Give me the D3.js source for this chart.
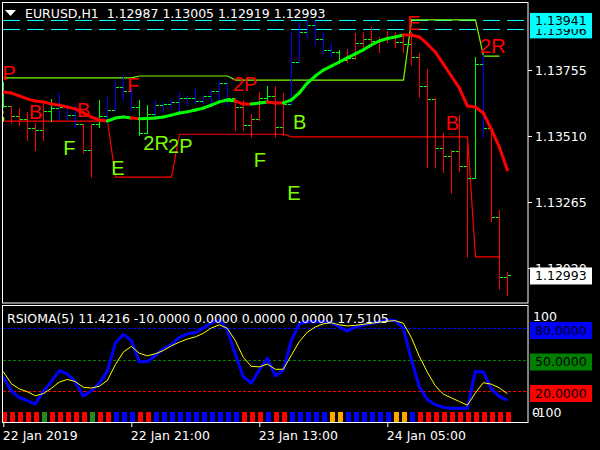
<!DOCTYPE html>
<html><head><meta charset="utf-8">
<script src="https://cdn.jsdelivr.net/npm/d3@7"></script>
<style>html,body{margin:0;padding:0;background:#000;overflow:hidden}svg{display:block}</style>
</head><body><svg id="c" width="600" height="450"></svg>
<script>
// ---------------- DATA ----------------
const symbolHeader = "EURUSD,H1  1.12987 1.13005 1.12919 1.12993";
const rsiHeader = "RSIOMA(5) 11.4216 -10.0000 0.0000 0.0000 0.0000 17.5105";
const timeTickIndex = [0, 16, 32, 48];
const timeTickLabels = ["22 Jan 2019", "22 Jan 21:00", "23 Jan 13:00", "24 Jan 05:00"];
const priceTicks = [1.13755, 1.13510, 1.13265, 1.13020];
const priceLevels = [1.13941, 1.13906];
const lastPrice = 1.12993;

const high = [1.13711,1.13622,1.13614,1.13600,1.13559,1.13633,1.13648,1.13670,1.13625,1.13622,1.13555,1.13555,1.13644,1.13655,1.13718,1.13737,
1.13685,1.13644,1.13625,1.13644,1.13637,1.13648,1.13674,1.13663,1.13685,1.13663,1.13681,1.13715,1.13711,1.13651,1.13644,1.13592,
1.13674,1.13696,1.13696,1.13670,1.13900,1.13933,1.13941,1.13937,1.13893,1.13856,1.13830,1.13833,1.13893,1.13896,1.13915,1.13878,
1.13900,1.13896,1.13878,1.13896,1.13818,1.13759,1.13651,1.13522,1.13459,1.13588,1.13481,1.13804,1.13811,1.13544,1.13236,1.13005];
const low = [1.13618,1.13559,1.13551,1.13496,1.13459,1.13496,1.13566,1.13574,1.13570,1.13544,1.13447,1.13358,1.13544,1.13559,1.13607,1.13644,
1.13607,1.13514,1.13522,1.13581,1.13600,1.13614,1.13600,1.13625,1.13633,1.13633,1.13633,1.13644,1.13625,1.13533,1.13533,1.13507,
1.13570,1.13644,1.13507,1.13514,1.13625,1.13785,1.13878,1.13848,1.13818,1.13804,1.13781,1.13785,1.13796,1.13837,1.13848,1.13822,
1.13859,1.13841,1.13822,1.13774,1.13655,1.13395,1.13395,1.13377,1.13299,1.13381,1.13062,1.13355,1.13507,1.13195,1.12943,1.12919];
const open = [1.13644,1.13622,1.13585,1.13574,1.13540,1.13533,1.13603,1.13614,1.13618,1.13588,1.13555,1.13459,1.13555,1.13585,1.13607,1.13692,
1.13677,1.13618,1.13522,1.13592,1.13625,1.13629,1.13637,1.13651,1.13651,1.13640,1.13659,1.13677,1.13707,1.13651,1.13618,1.13551,
1.13574,1.13651,1.13659,1.13544,1.13629,1.13785,1.13896,1.13922,1.13870,1.13830,1.13822,1.13792,1.13800,1.13856,1.13870,1.13863,
1.13870,1.13878,1.13859,1.13852,1.13804,1.13696,1.13648,1.13466,1.13436,1.13455,1.13399,1.13355,1.13778,1.13540,1.13210,1.12987];
const close = [1.13622,1.13585,1.13574,1.13540,1.13533,1.13603,1.13614,1.13618,1.13588,1.13555,1.13459,1.13555,1.13585,1.13607,1.13692,1.13677,
1.13618,1.13522,1.13592,1.13625,1.13629,1.13637,1.13651,1.13651,1.13640,1.13659,1.13677,1.13707,1.13651,1.13618,1.13551,1.13574,
1.13651,1.13659,1.13544,1.13629,1.13785,1.13896,1.13922,1.13870,1.13830,1.13822,1.13792,1.13800,1.13856,1.13870,1.13863,1.13870,
1.13878,1.13859,1.13852,1.13804,1.13696,1.13648,1.13466,1.13436,1.13455,1.13399,1.13355,1.13778,1.13540,1.13210,1.12987,1.12993];
// bar body colour class per bar: G = green, B = blue, R = red
const barClass = ("G"+"RRRRR"+"G"+"BBB"+"RR"+"G"+"BBBB"+"GG"+"BBBBBBBBBB"+"RRRR"+"G"+"RR"+"BBBBBB"+"G"+"RRRRRRRRRRRRRRRR"+"G"+"B"+"RRR").split("");

// trend moving average
const maLine = [1.13674,1.13670,1.13659,1.13648,1.13640,1.13637,1.13629,1.13625,1.13618,1.13611,1.13596,1.13581,1.13570,1.13566,1.13577,1.13581,
1.13577,1.13574,1.13575,1.13577,1.13581,1.13588,1.13596,1.13600,1.13607,1.13614,1.13625,1.13637,1.13644,1.13640,1.13629,1.13629,
1.13633,1.13637,1.13633,1.13633,1.13644,1.13670,1.13707,1.13733,1.13755,1.13770,1.13785,1.13800,1.13815,1.13830,1.13848,1.13863,
1.13872,1.13878,1.13885,1.13885,1.13878,1.13852,1.13822,1.13778,1.13733,1.13689,1.13622,1.13618,1.13596,1.13536,1.13470,1.13384];
const maTrend = ("RRRRRRRRRRRRR"+"GGG"+"R"+"GGGGGGGGGGGG"+"RR"+"GG"+"RR"+"GGGGGGGGGGGGGGG"+"RRRRRRRRRRRRRR").split("");

// upper (green) and lower (red) step levels
const upperLevel = [1.13726,1.13726,1.13726,1.13726,1.13726,1.13726,1.13726,1.13726,1.13726,1.13726,1.13726,1.13726,1.13726,1.13726,1.13726,1.13726,
1.13726,1.13733,1.13733,1.13733,1.13733,1.13733,1.13733,1.13733,1.13733,1.13733,1.13733,1.13733,1.13733,1.13718,1.13718,1.13718,
1.13718,1.13718,1.13718,1.13718,1.13718,1.13718,1.13718,1.13718,1.13718,1.13718,1.13718,1.13718,1.13718,1.13718,1.13718,1.13718,
1.13718,1.13718,1.13718,1.13941,1.13941,1.13941,1.13941,1.13941,1.13941,1.13941,1.13941,1.13941,1.13807,1.13807,1.13807,null];
const lowerLevel = [1.13566,1.13566,1.13566,1.13566,1.13566,1.13566,1.13566,1.13566,1.13566,1.13566,1.13566,1.13566,1.13566,1.13566,1.13358,1.13358,
1.13358,1.13358,1.13358,1.13358,1.13358,1.13358,1.13517,1.13517,1.13517,1.13517,1.13517,1.13517,1.13517,1.13517,1.13517,1.13517,
1.13517,1.13517,1.13517,1.13517,1.13507,1.13507,1.13507,1.13507,1.13507,1.13507,1.13507,1.13507,1.13507,1.13507,1.13507,1.13507,
1.13507,1.13507,1.13507,1.13507,1.13507,1.13507,1.13507,1.13507,1.13507,1.13507,1.13507,1.13062,1.13062,1.13062,1.13062,null];

// signal labels: text, bar position, price, colour class
const markText  = ["2P","B","B","F","2P","E","2R","B",  "B","F","E","2R","2P","B","F","E"];
const markBar   = [-1.5,3.2,9.2,15.5,28.7,50.5,59.6,55.3, -1.4,7.5,13.5,17.5,20.6,36.2,31.3,35.5];
const markPrice = [1.13718,1.13574,1.13581,1.13674,1.13677,1.13904,1.13818,1.13533, 1.13559,1.13440,1.13366,1.13459,1.13447,1.13536,1.13395,1.13273];
const markClass = ["R","R","R","R","R","R","R","R","G","G","G","G","G","G","G","G"];

// RSIOMA sub-window
const rsioma = [33.6,20,13.7,10.8,7.6,19.5,28.9,39.3,36.2,28.9,15.2,20,27.5,39,65.4,74,68,47.9,47.9,54,60,64,71,74.5,75.5,80,85,87.5,78,55,33.6,27.3,
40,51,34.3,40,68,84,86,86,86,85,81,77,81,83,84.5,86,87.6,87,80,50,24,12,7,4.5,3.5,3.5,3.5,38.4,38.4,22,14.6,11.4216];
const rsiSignal = [38.4,27,22,19.3,15.5,17.5,22.5,28.5,31,29,23.5,22.8,24.5,30,45,57,62.5,56,53.5,55.5,58.5,63,66.5,69.5,71.5,75,80,83,79.7,68,52,43.5,
43,45.7,40.7,40.7,54,67,76,81,84,85,83,82,82.5,83.5,84.5,85.5,86.5,87,84.5,71,53,38,25,17,13.5,10,6.5,18,27.9,26.5,23,17.5105];
const histClass = ("RRRRR"+"G"+"RRRRR"+"G"+"RR"+"BBB"+"RR"+"BBBBBBBBBBB"+"RRR"+"B"+"RR"+"BBBBB"+"OO"+"BBBBBB"+"OO"+"B"+"RRRRRRRRRRRR").split("");
const rsiLevels = [80, 50, 20];
const rsiLevelLabels = ["80.0000", "50.0000", "20.0000"];

// ---------------- DRAWING ----------------
const N = close.length;
const svg = d3.select("#c");
svg.append("rect").attr("width",600).attr("height",450).attr("fill","#000");

const x = d3.scaleLinear().domain([0, N-1]).range([3.3, 507.3]);
const yP = d3.scaleLinear().domain([1.128946, 1.14015]).range([302, 0]);
const yR = d3.scaleLinear().domain([-10, 100]).range([422.5, 307]);
const px = i => Math.round(x(i)) + 0.5;
const py = v => Math.round(yP(v)) + 0.5;

const barCol = {G:"#00FF00", B:"#0000FF", R:"#FF0000"};
const maCol = {G:"#00FF00", R:"#FF0000"};
const markCol = {G:"#7CFC00", R:"#FF0000"};
const histCol = {R:"#FF0000", G:"#228B22", B:"#0000FF", O:"#FFA500"};
const FONT = "'DejaVu Sans', Verdana, sans-serif";
const FS = 12.5;

const defs = svg.append("defs");
defs.append("clipPath").attr("id","mainClip").append("rect").attr("x",3).attr("y",3).attr("width",525).attr("height",299);
defs.append("clipPath").attr("id","subClip").append("rect").attr("x",3).attr("y",306).attr("width",525).attr("height",116);

const main = svg.append("g").attr("clip-path","url(#mainClip)");

// cyan dashed price levels
main.selectAll("line.lvl").data(priceLevels).join("line")
  .attr("x1",3).attr("x2",528).attr("y1",d=>py(d)).attr("y2",d=>py(d))
  .attr("stroke","#00FFFF").attr("stroke-width",1).attr("stroke-dasharray","17,7");

// thin step lines
const stepLine = d3.line().defined(d=>d[1]!=null).x(d=>px(d[0])).y(d=>yP(d[1]));
main.append("path").attr("d", stepLine(lowerLevel.map((v,i)=>[i,v])))
  .attr("fill","none").attr("stroke","#FF0000").attr("stroke-width",1.2);
main.append("path").attr("d", stepLine(upperLevel.map((v,i)=>[i,v])))
  .attr("fill","none").attr("stroke","#7CFC00").attr("stroke-width",1.2);

// OHLC bars
const bars = main.append("g").attr("shape-rendering","crispEdges");
for (let i=0;i<N;i++){
  const bx = px(i);
  bars.append("line").attr("x1",bx-3.5).attr("x2",bx).attr("y1",py(open[i])).attr("y2",py(open[i]))
    .attr("stroke","#00FF00").attr("stroke-width",1);
  bars.append("line").attr("x1",bx).attr("x2",bx+3.5).attr("y1",py(close[i])).attr("y2",py(close[i]))
    .attr("stroke","#00FF00").attr("stroke-width",1);
  bars.append("line").attr("x1",bx).attr("x2",bx).attr("y1",Math.round(yP(high[i]))).attr("y2",Math.round(yP(low[i]))+1)
    .attr("stroke",barCol[barClass[i]]).attr("stroke-width",1);
}

// thick trend MA
const ma = main.append("g");
for (let i=0;i<N-1;i++){
  ma.append("line").attr("x1",x(i)).attr("y1",yP(maLine[i])).attr("x2",x(i+1)).attr("y2",yP(maLine[i+1]))
    .attr("stroke",maCol[maTrend[i]]).attr("stroke-width",3).attr("stroke-linecap","round");
}

// signal letters
main.selectAll("text.mark").data(markText).join("text")
  .attr("x",(d,i)=>x(markBar[i])).attr("y",(d,i)=>yP(markPrice[i]))
  .attr("fill",(d,i)=>markCol[markClass[i]])
  .attr("font-family","'Liberation Sans', Arial, sans-serif").attr("font-size",20)
  .text(d=>d);

// header
svg.append("path").attr("d","M5,10 L16,10 L10.5,16 Z").attr("fill","#fff");
svg.append("text").attr("x",25).attr("y",18).attr("fill","#fff").attr("font-family",FONT).attr("font-size",FS)
  .attr("xml:space","preserve").style("white-space","pre").text(symbolHeader);

// frames
svg.append("rect").attr("x",2.5).attr("y",2.5).attr("width",525.5).attr("height",300.5).attr("fill","none").attr("stroke","#fff");
svg.append("rect").attr("x",2.5).attr("y",305.5).attr("width",525.5).attr("height",117).attr("fill","none").attr("stroke","#fff");

// price axis
const pAxis = svg.append("g");
priceTicks.forEach(v=>{
  pAxis.append("line").attr("x1",528).attr("x2",532).attr("y1",py(v)).attr("y2",py(v)).attr("stroke","#fff");
  pAxis.append("text").attr("x",535).attr("y",yP(v)).attr("dy","0.36em").attr("fill","#fff")
    .attr("font-family",FONT).attr("font-size",FS).text(v.toFixed(5));
});
// level labels (lower first so upper overlays)
[priceLevels[1], priceLevels[0]].forEach(v=>{
  const cy = yP(v)+1;
  pAxis.append("rect").attr("x",530).attr("y",cy-8).attr("width",62).attr("height",16).attr("fill","#00FFFF");
  pAxis.append("text").attr("x",535).attr("y",cy).attr("dy","0.36em").attr("fill","#000")
    .attr("font-family",FONT).attr("font-size",FS).text(v.toFixed(5));
});
{
  const cy = yP(lastPrice);
  pAxis.append("rect").attr("x",530).attr("y",cy-8).attr("width",62).attr("height",17).attr("fill","#fff");
  pAxis.append("text").attr("x",535).attr("y",cy).attr("dy","0.36em").attr("fill","#000")
    .attr("font-family",FONT).attr("font-size",FS).text(lastPrice.toFixed(5));
}

// ---------------- RSIOMA window ----------------
const sub = svg.append("g").attr("clip-path","url(#subClip)");
const lvlCol = ["#0000FF","#008000","#FF0000"];
sub.selectAll("line.rl").data(rsiLevels).join("line")
  .attr("x1",3).attr("x2",528).attr("y1",d=>Math.round(yR(d))+0.5).attr("y2",d=>Math.round(yR(d))+0.5)
  .attr("stroke",(d,i)=>lvlCol[i]).attr("stroke-dasharray","3,2");

sub.selectAll("rect.h").data(histClass).join("rect")
  .attr("x",(d,i)=>Math.round(x(i))-1).attr("width",5)
  .attr("y",yR(0)).attr("height",yR(-10)-yR(0))
  .attr("fill",d=>histCol[d]);

const rl = d3.line().x((d,i)=>x(i)).y(d=>yR(d));
sub.append("path").attr("d",rl(rsioma)).attr("fill","none").attr("stroke","#0000FF").attr("stroke-width",3).attr("stroke-linejoin","round");
sub.append("path").attr("d",rl(rsiSignal)).attr("fill","none").attr("stroke","#FFFF00").attr("stroke-width",1);

svg.append("text").attr("x",7).attr("y",323).attr("fill","#fff").attr("font-family",FONT).attr("font-size",FS).text(rsiHeader);

// sub axis labels
svg.append("text").attr("x",533).attr("y",yR(100)+9).attr("dy","0.36em").attr("fill","#fff").attr("font-family",FONT).attr("font-size",FS).text("100");
rsiLevels.forEach((v,i)=>{
  const cy = yR(v)+2;
  svg.append("rect").attr("x",530).attr("y",cy-8).attr("width",62).attr("height",17).attr("fill",lvlCol[i]);
  svg.append("text").attr("x",535).attr("y",cy).attr("dy","0.36em").attr("fill","#000").attr("font-family",FONT).attr("font-size",FS).text(rsiLevelLabels[i]);
});
svg.append("text").attr("x",533).attr("y",yR(0)).attr("dy","0.36em").attr("fill","#fff").attr("font-family",FONT).attr("font-size",FS).text("-100");
svg.append("text").attr("x",532).attr("y",yR(0)).attr("dy","0.36em").attr("fill","#fff").attr("font-family",FONT).attr("font-size",FS).text("0");

// time axis
const tAxis = d3.axisBottom(x).tickValues(timeTickIndex).tickSize(4).tickFormat((d,i)=>timeTickLabels[i]);
const tg = svg.append("g").attr("transform","translate(0,423)").call(tAxis);
tg.select(".domain").remove();
tg.selectAll(".tick line").attr("stroke","#fff");
tg.selectAll(".tick text").attr("fill","#fff").attr("font-family",FONT).attr("font-size",FS)
  .attr("text-anchor","start").attr("dx",-1).attr("y",8);
</script>
</body></html>
